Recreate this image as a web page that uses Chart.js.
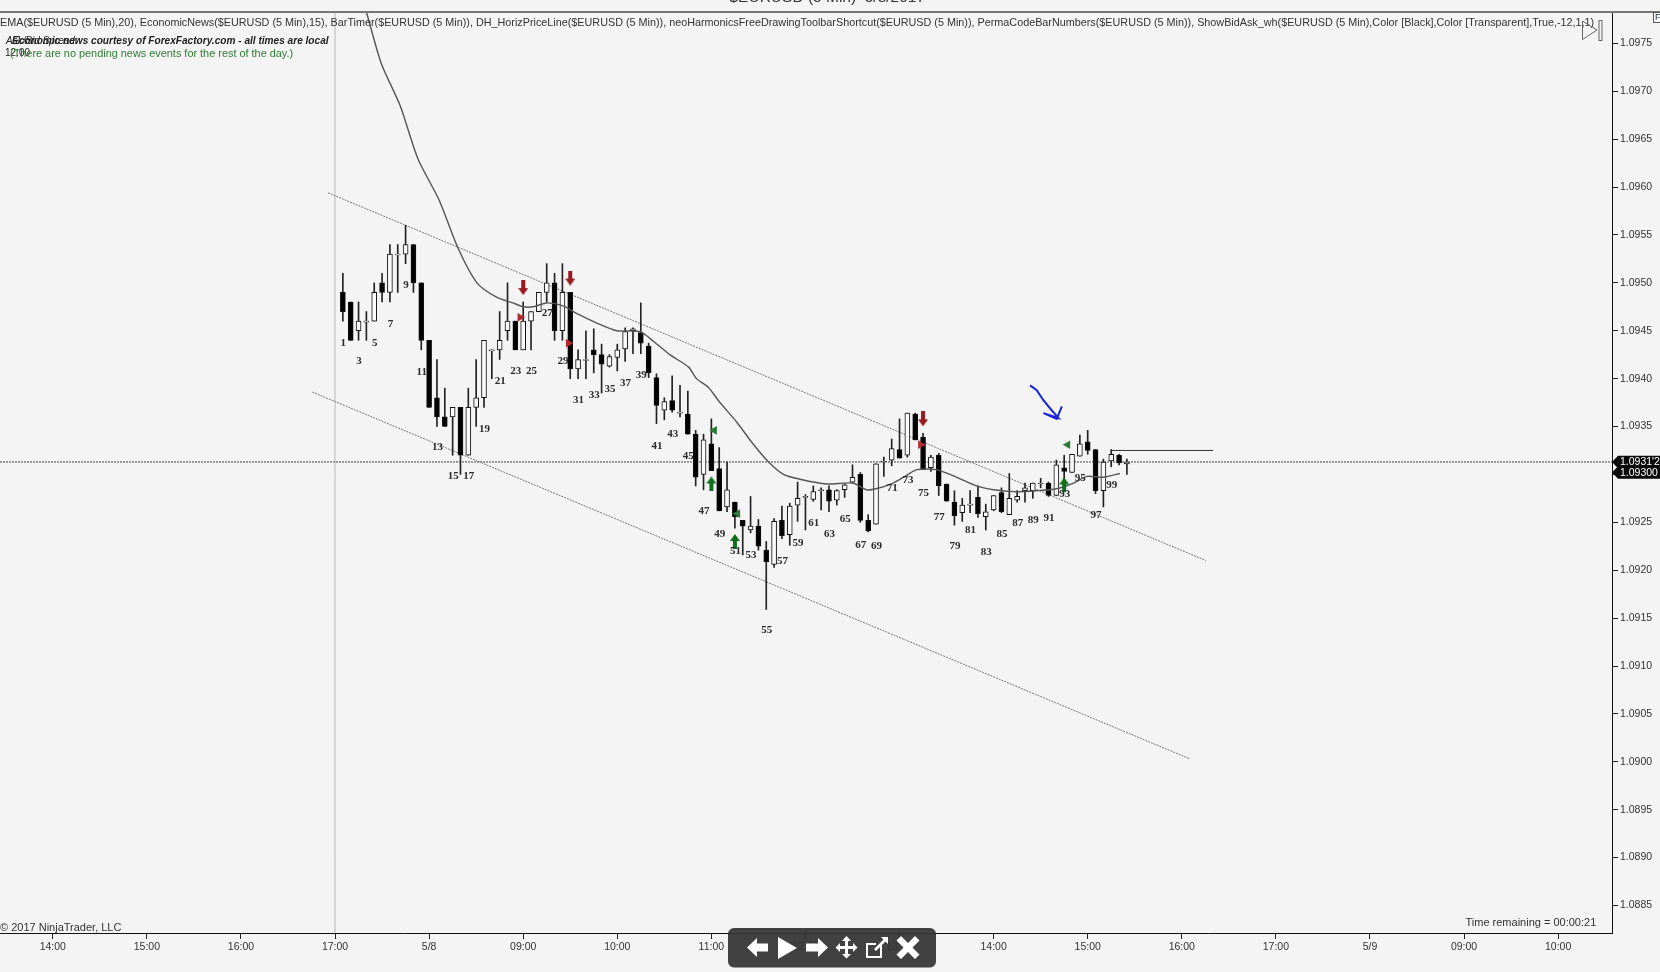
<!DOCTYPE html>
<html><head><meta charset="utf-8">
<script src="https://cdn.jsdelivr.net/npm/chart.js@4"></script>
<style>
html,body{margin:0;padding:0;background:#f4f4f4;width:1660px;height:972px;overflow:hidden}
#c{position:absolute;left:0;top:0}
.t{position:absolute;white-space:pre;font-family:"Liberation Sans",Arial,sans-serif;line-height:1}
</style></head><body>
<canvas id="c" width="1660" height="972"></canvas>
<div class="t" style="left:729.5px;top:-11px;font-size:15.5px;color:#333">$EURUSD (5 Min)  5/8/2017</div>
<div style="position:absolute;left:0;top:10.5px;width:1660px;height:2px;background:#777"></div>
<div class="t" id="hdr" style="left:0;top:16.5px;font-size:10.8px;color:#333">EMA($EURUSD (5 Min),20), EconomicNews($EURUSD (5 Min),15), BarTimer($EURUSD (5 Min)), DH_HorizPriceLine($EURUSD (5 Min)), neoHarmonicsFreeDrawingToolbarShortcut($EURUSD (5 Min)), PermaCodeBarNumbers($EURUSD (5 Min)), ShowBidAsk_wh($EURUSD (5 Min),Color [Black],Color [Transparent],True,-12,1,1)</div>
<div class="t" style="left:6px;top:36px;font-size:10px;color:#222;font-style:italic">Ask/Bid Spread:</div>
<div class="t" style="left:12px;top:36px;font-size:10.1px;color:#222;font-style:italic;font-weight:bold">Economic news courtesy of ForexFactory.com - all times are local</div>
<div class="t" style="left:5px;top:48px;font-size:10px;color:#222">12:00</div>
<div class="t" style="left:10px;top:48px;font-size:10.9px;color:#2e7d32">(There are no pending news events for the rest of the day.)</div>
<div class="t" style="left:0;top:922px;font-size:11px;color:#333">© 2017 NinjaTrader, LLC</div>
<div class="t" style="left:1465.5px;top:916.5px;font-size:11px;color:#333">Time remaining = 00:00:21</div>
<div class="t" style="left:1653px;top:12px;width:10px;height:11px;background:#fff;border:1px solid #555;font-size:9px;color:#333;padding-left:1px;box-sizing:border-box">F</div>
<svg style="position:absolute;left:0;top:0" width="1660" height="972">
  <path d="M1582.5 21 L1597 30 L1582.5 39.5 Z" fill="none" stroke="#666" stroke-width="1"/>
  <rect x="1599" y="20.5" width="3" height="20" fill="none" stroke="#666" stroke-width="1"/>
  <rect x="728" y="928" width="208" height="39.5" rx="6" fill="#333" fill-opacity="0.93"/>
  <g fill="#fff" stroke="none">
    <path d="M747 947.5 L757 938 L757 943.5 L768 943.5 L768 951.5 L757 951.5 L757 957 Z"/>
    <path d="M778 937 L797 948 L778 959 Z"/>
    <path d="M828 947.5 L818 938 L818 943.5 L806 943.5 L806 951.5 L818 951.5 L818 957 Z"/>
    <path d="M846.5 936 L851 941 L848 941 L848 946 L853 946 L853 943 L857.5 947.5 L853 952 L853 949 L848 949 L848 954 L851 954 L846.5 958.5 L842 954 L845 954 L845 949 L840 949 L840 952 L835.5 947.5 L840 943 L840 946 L845 946 L845 941 L842 941 Z"/>
    <path d="M881 937 L888 937 L888 944 L885.5 941.5 L876 951 L874 949 L883.5 939.5 Z"/>
    <path d="M901 936 L908 943 L915 936 L919.5 940.5 L912.5 947.5 L919.5 954.5 L915 959 L908 952 L901 959 L896.5 954.5 L903.5 947.5 L896.5 940.5 Z"/>
  </g>
  <path d="M881 944 L881 957 L867 957 L867 944 L876 944" fill="none" stroke="#fff" stroke-width="2"/>
</svg>
<script>
// OHLC of the numbered 5-minute bars, bar 1 .. bar 101
const opens=[1.0949,1.0948,1.0945,1.09459,1.0946,1.0950,1.0949,1.09529,1.0953,1.0954,1.0950,1.0944,1.0938,1.0936,1.0936,1.0937,1.0932,1.0937,1.0938,1.09429,1.0943,1.0945,1.0946,1.0943,1.0946,1.0947,1.0949,1.0950,1.0945,1.0949,1.0941,1.09419,1.0943,1.09425,1.09413,1.09422,1.09431,1.0945,1.09448,1.09434,1.09401,1.09367,1.09377,1.09364,1.09363,1.09342,1.0930,1.09332,1.09306,1.09266,1.09271,1.09252,1.09242,1.09246,1.09221,1.09206,1.09252,1.09237,1.09268,1.09276,1.09274,1.09283,1.09284,1.09273,1.09284,1.09292,1.0930,1.09252,1.09248,1.09313,1.09315,1.09326,1.0932,1.09363,1.09339,1.09307,1.0932,1.0929,1.09271,1.0926,1.09268,1.09276,1.09256,1.09263,1.09281,1.09258,1.09273,1.09283,1.09283,1.0929,1.09291,1.09278,1.09307,1.09302,1.09319,1.09334,1.09326,1.09283,1.09314,1.0932,1.09311];
const highs=[1.0951,1.0948,1.0948,1.0947,1.0950,1.0951,1.0954,1.0954,1.0956,1.0954,1.0950,1.0944,1.0942,1.0939,1.0937,1.0937,1.0939,1.0942,1.0944,1.0943,1.0947,1.0950,1.0946,1.0948,1.0947,1.0949,1.0952,1.0951,1.0952,1.0949,1.0943,1.0945,1.09452,1.09436,1.09425,1.09436,1.09453,1.09453,1.09479,1.09437,1.09405,1.0938,1.09403,1.09393,1.09387,1.09346,1.09342,1.09358,1.09328,1.09313,1.09271,1.09252,1.09277,1.09253,1.0923,1.09254,1.09267,1.0927,1.09292,1.09279,1.09288,1.09286,1.09288,1.09284,1.0929,1.0931,1.09302,1.09258,1.09311,1.09318,1.09337,1.09358,1.09364,1.09364,1.09343,1.0932,1.09322,1.0929,1.09283,1.09275,1.09283,1.09288,1.09269,1.09278,1.09286,1.09301,1.09283,1.09291,1.09291,1.09296,1.09292,1.09315,1.0932,1.09321,1.09341,1.09346,1.09326,1.09316,1.09326,1.09321,1.09316];
const lows=[1.0946,1.0944,1.0944,1.0944,1.0946,1.0948,1.0948,1.0949,1.0952,1.0949,1.0943,1.0937,1.0935,1.0935,1.0932,1.0930,1.0932,1.0935,1.0937,1.0940,1.0942,1.0944,1.0943,1.0943,1.0943,1.0947,1.0948,1.0944,1.0944,1.0940,1.0940,1.0940,1.09406,1.09385,1.09412,1.09408,1.09418,1.09426,1.09426,1.09401,1.09353,1.09357,1.09365,1.0936,1.09342,1.09288,1.09284,1.09304,1.09262,1.09261,1.09244,1.09216,1.09239,1.09221,1.09159,1.09203,1.09233,1.09226,1.09251,1.09242,1.09272,1.09263,1.09261,1.09268,1.09276,1.09291,1.0925,1.0924,1.09248,1.09298,1.09309,1.09317,1.09318,1.09336,1.09305,1.09303,1.09278,1.09272,1.09247,1.09251,1.0926,1.09255,1.09242,1.09262,1.0926,1.09258,1.09271,1.09271,1.09275,1.09286,1.09277,1.09278,1.09287,1.09302,1.09319,1.09321,1.0928,1.09266,1.09308,1.0931,1.093];
const closes=[1.0947,1.0944,1.0946,1.0946,1.0949,1.0949,1.0953,1.0953,1.0954,1.0950,1.0944,1.0937,1.0936,1.0935,1.0937,1.0932,1.0937,1.0938,1.0944,1.0943,1.0944,1.0946,1.0943,1.0946,1.0947,1.0949,1.0950,1.0945,1.0949,1.0941,1.0942,1.0942,1.09425,1.09415,1.09423,1.0943,1.09449,1.09452,1.09437,1.09406,1.09372,1.09376,1.09367,1.09365,1.09342,1.09297,1.09336,1.09304,1.09262,1.09284,1.09256,1.09246,1.09246,1.09225,1.09209,1.09251,1.09236,1.09267,1.09275,1.09277,1.09282,1.09284,1.09272,1.09283,1.09289,1.09297,1.09252,1.09241,1.09311,1.09314,1.09327,1.09317,1.09364,1.09336,1.09305,1.09318,1.09288,1.09272,1.09257,1.09268,1.09269,1.09259,1.09261,1.09278,1.09261,1.09275,1.09277,1.09286,1.09291,1.09291,1.09278,1.0931,1.09303,1.09321,1.09332,1.09325,1.09283,1.09313,1.09321,1.09312,1.09313];
// 20-period EMA, read at these bar positions
const emaBars=[3.9,4.13,5.9,8.3,10.6,13.3,15.7,18.1,20.6,22.7,24,25.3,27,29.1,30.8,33.4,35.9,38.9,40.6,42.7,45.1,46.1,47.6,49.1,51.2,53.3,55.3,57.2,59.3,62.7,66,67.8,69,71.2,72.9,74.2,76.7,79.3,81.8,84,86.5,89.5,92,94.2,95.9,98,100.1];
const emaVals=[1.09786,1.09779,1.09729,1.09685,1.09629,1.09586,1.09536,1.09500,1.09485,1.09479,1.09475,1.09475,1.09479,1.09476,1.09468,1.09458,1.09450,1.09449,1.09439,1.09425,1.09412,1.09400,1.09391,1.09375,1.09355,1.09332,1.09313,1.09300,1.09295,1.09290,1.09291,1.09284,1.09285,1.09291,1.09299,1.09305,1.09305,1.09297,1.09288,1.09284,1.09282,1.09283,1.09285,1.09291,1.09298,1.09297,1.09301];
// Bar number labels
const labelNums=[1,3,5,7,9,11,13,15,17,19,21,23,25,27,29,31,33,35,37,39,41,43,45,47,49,51,53,55,57,59,61,63,65,67,69,71,73,75,77,79,81,83,85,87,89,91,93,95,97,99];
const labelPrices=[1.09438,1.09419,1.09438,1.09458,1.09499,1.09408,1.09329,1.09299,1.09299,1.09348,1.09398,1.09409,1.09409,1.09469,1.09419,1.09379,1.09384,1.09390,1.09396,1.09405,1.09331,1.09343,1.09320,1.09263,1.09239,1.09221,1.09217,1.09138,1.09211,1.09229,1.09250,1.09239,1.09254,1.09227,1.09226,1.09287,1.09295,1.09281,1.09256,1.09226,1.09243,1.09220,1.09239,1.09250,1.09253,1.09255,1.09280,1.09297,1.09258,1.09290];
// Axes
const tickBars=[-36,-24,-12,0,12,24,36,48,60,72,84,96,108,120,132,144,156];
const tickLabels=["14:00","15:00","16:00","17:00","5/8","09:00","10:00","11:00","12:00","13:00","14:00","15:00","16:00","17:00","5/9","09:00","10:00"];
const priceTicks=[1.0885,1.0890,1.0895,1.0900,1.0905,1.0910,1.0915,1.0920,1.0925,1.0930,1.0935,1.0940,1.0945,1.0950,1.0955,1.0960,1.0965,1.0970,1.0975];
const xMin=-42.73,xMax=162.87,yMin=1.088213,yMax=1.097827;
// Drawn objects
const upperBars=[-0.9,111.1],upperPrices=[1.09594,1.09210];
const lowerBars=[-2.9,109.05],lowerPrices=[1.09386,1.09003];
const sessionBars=[0,0],sessionPrices=[yMin,yMax];
const lastPrice=1.09313,bidPrice=1.09302;
const lastBars=[xMin,xMax],lastPrices=[lastPrice,lastPrice];
const horizBars=[99,112],horizPrices=[1.09325,1.09325];
const arrowBars=[88.65,89.5,90.3,91.4,92.26,90.35,92.06,92.7];
const arrowPrices=[1.09393,1.09388,1.09378,1.09367,1.09359,1.09364,1.09358,1.09371];
const downBars=[24,30,75],downPrices=[1.09495,1.09505,1.09358];
const upBars=[48,51,93],upPrices=[1.09290,1.09230,1.09289];
const redTriBars=[23.6,29.76,74.7],redTriPrices=[1.09464,1.09437,1.09331];
const greenTriBars=[48.38,51.35,93.45],greenTriPrices=[1.09346,1.09259,1.09331];

const pts=(xs,ys)=>xs.map((x,i)=>({x,y:ys[i]}));
function arrowIcon(color,down){
  const c=document.createElement('canvas');c.width=10;c.height=15;
  const g=c.getContext('2d');g.fillStyle=color;
  if(down){g.translate(0,15);g.scale(1,-1);}
  g.beginPath();g.moveTo(5,0);g.lineTo(10,7);g.lineTo(7,7);g.lineTo(7,15);g.lineTo(3,15);g.lineTo(3,7);g.lineTo(0,7);g.closePath();g.fill();
  return c;
}
const line=(data,color,width,dash,order,extra)=>Object.assign({type:'line',data,borderColor:color,borderWidth:width,borderDash:dash,pointRadius:0,fill:false,order,tension:0},extra||{});
const marks=(data,style,color,radius,rot)=>({type:'scatter',data,pointStyle:style,pointRadius:radius,pointRotation:rot,backgroundColor:color,borderColor:color,borderWidth:0,order:0});
const barX=i=>i+1;
const isUp=i=>closes[i]>=opens[i];

const numbersPlugin={id:'numbers',afterDatasetsDraw(ch){
  const {ctx,scales:{x,y}}=ch;ctx.save();
  ctx.font='bold 11px "Liberation Serif"';ctx.fillStyle='#2a2a2a';ctx.textAlign='center';ctx.textBaseline='middle';
  labelNums.forEach((n,i)=>ctx.fillText(String(n),x.getPixelForValue(n)+0.5,y.getPixelForValue(labelPrices[i])+1));
  ctx.restore();
}};
const tagsPlugin={id:'tags',afterDraw(ch){
  const {ctx,scales:{y},chartArea:a}=ch;ctx.save();
  [[lastPrice,"1.0931'2"],[bidPrice,"1.09300"]].forEach(([p,txt])=>{
    const m=y.getPixelForValue(p),l=a.right;
    ctx.fillStyle='#0a0a0a';ctx.beginPath();ctx.moveTo(l,m);ctx.lineTo(l+6,m-6.2);ctx.lineTo(1660,m-6.2);ctx.lineTo(1660,m+6.2);ctx.lineTo(l+6,m+6.2);ctx.closePath();ctx.fill();
    ctx.fillStyle='#fff';ctx.font='10.5px "Liberation Sans"';ctx.textAlign='left';ctx.textBaseline='middle';ctx.fillText(txt,l+8,m+0.5);
  });
  ctx.restore();
}};

new Chart(document.getElementById('c'),{
  type:'bar',
  data:{datasets:[
    marks(pts(downBars,downPrices),arrowIcon('#98191f',true),'#98191f',7,0),
    marks(pts(upBars,upPrices),arrowIcon('#0f6f1c',false),'#0f6f1c',7,0),
    marks(pts(redTriBars,redTriPrices),'triangle','#b02a30',5,90),
    marks(pts(greenTriBars,greenTriPrices),'triangle','#2b7a35',5,-90),
    line(pts(arrowBars,arrowPrices),'#1a25d6',2,[],1),
    line(pts(emaBars,emaVals),'#555',1.4,[],2,{tension:0.25}),
    {type:'bar',data:opens.map((o,i)=>({x:barX(i),y:[o,closes[i]]})),barThickness:5,grouped:false,
      backgroundColor:opens.map((o,i)=>isUp(i)?'#fafafa':'#000'),borderColor:'#111',borderWidth:1,borderSkipped:false,order:3},
    {type:'bar',data:highs.map((h,i)=>({x:barX(i),y:[lows[i],h]})),barThickness:1,grouped:false,backgroundColor:'#222',borderWidth:0,order:4},
    line(pts(horizBars,horizPrices),'#333',1,[],5),
    line(pts(upperBars,upperPrices),'#777',1,[2,1],6),
    line(pts(lowerBars,lowerPrices),'#777',1,[2,1],6),
    line(pts(lastBars,lastPrices),'#444',1,[2,1],7),
    line(pts(sessionBars,sessionPrices),'#b8b8b8',1,[],8)
  ]},
  options:{
    responsive:false,animation:false,devicePixelRatio:1,
    layout:{autoPadding:false,padding:{top:12,left:0,right:0,bottom:0}},
    plugins:{legend:{display:false},tooltip:{enabled:false},title:{display:false}},
    scales:{
      x:{type:'linear',offset:false,min:xMin,max:xMax,position:'bottom',
        afterFit:s=>{s.height=39},
        afterBuildTicks:s=>{s.ticks=tickBars.map(value=>({value}))},
        border:{color:'#111',width:1},
        grid:{drawOnChartArea:false,drawTicks:true,tickLength:6,color:'#222',offset:false},
        ticks:{autoSkip:false,maxRotation:0,minRotation:0,padding:2,color:'#333',font:{family:'"Liberation Sans"',size:10.5},
          callback:v=>tickLabels[tickBars.indexOf(v)]}},
      y:{type:'linear',position:'right',min:yMin,max:yMax,
        afterFit:s=>{s.width=48},
        afterBuildTicks:s=>{s.ticks=priceTicks.map(value=>({value}))},
        border:{color:'#111',width:1},
        grid:{drawOnChartArea:false,drawTicks:true,tickLength:6,color:'#222'},
        ticks:{padding:2,color:'#333',font:{family:'"Liberation Sans"',size:10.5},callback:v=>v.toFixed(4)}}
    }
  },
  plugins:[numbersPlugin,tagsPlugin]
});
</script>
</body></html>
